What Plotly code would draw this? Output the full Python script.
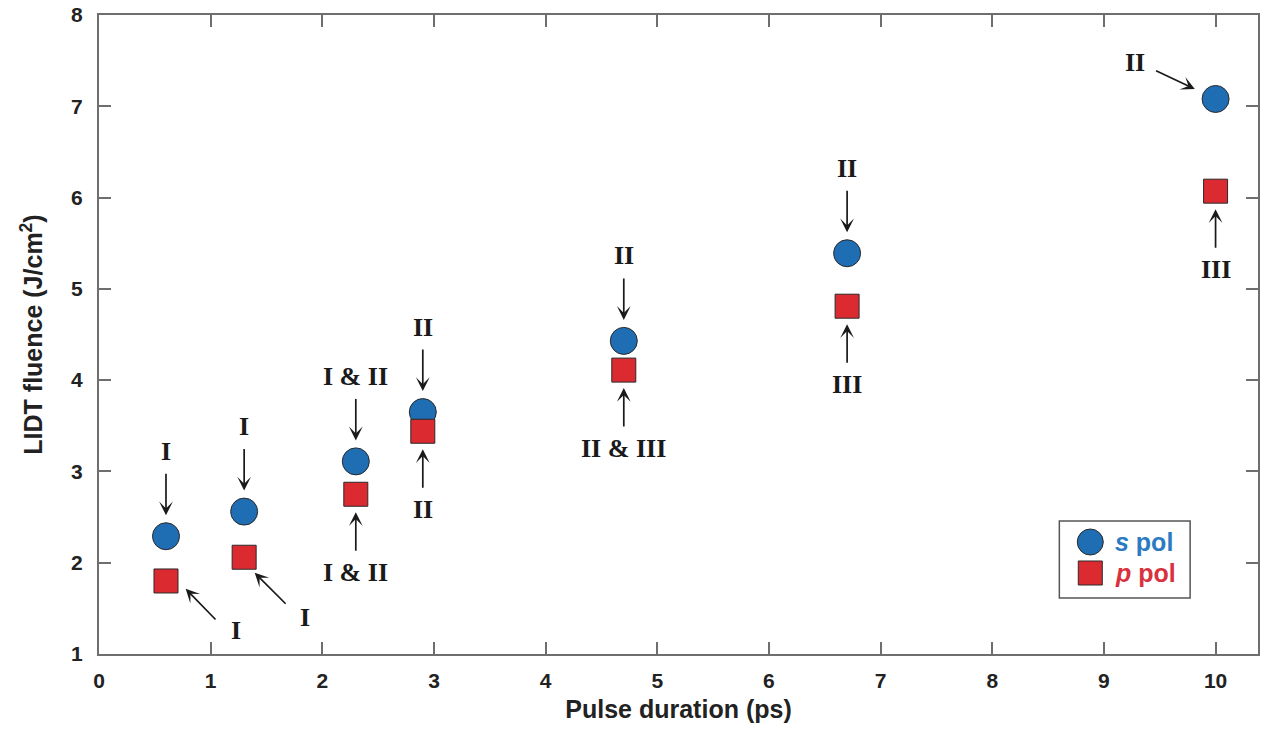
import plotly.graph_objects as go

# ---------------- data ----------------
pulse_ps = [0.6, 1.3, 2.3, 2.9, 4.7, 6.7, 10.0]
s_pol = [2.29, 2.56, 3.11, 3.65, 4.43, 5.39, 7.08]
p_pol = [1.80, 2.06, 2.75, 3.44, 4.11, 4.81, 6.07]
s_labels = ["I", "I", "I & II", "II", "II", "II", "II"]
p_labels = ["I", "I", "I & II", "II", "II & III", "III", "III"]
x_ticks = list(range(0, 11))
y_ticks = list(range(1, 9))

# ---------------- style ----------------
W, H = 1261, 742
ML, MR, MT, MB = 99, 1, 15, 88
PW, PH = W - ML - MR, H - MT - MB

S_FILL = "#1f6db3"
P_FILL = "#dc2b30"
EDGE = "#2a2a2a"
AXIS = "#6e6e6e"
SANS = "Liberation Sans, Arial, sans-serif"
SERIF = "Liberation Serif, Times New Roman, serif"

# label/arrow offsets in pixels relative to marker centre:
# (text_dx, text_dy, tail_dx, tail_dy, standoff, arrow_xshift)
s_off = [(0, -85, 0, -64, 21, 0)] * 6 + [(-81, -36, -61, -29, 23, 0)]
p_off = [(70, 50, 39, 40, 11, 12), (61, 60, 48, 48, 22, -5)] + [(0, 78, 0, 58, 18, 0)] * 5

fig = go.Figure()

fig.add_trace(go.Scatter(
    x=pulse_ps, y=s_pol, mode="markers", name="s pol",
    marker=dict(symbol="circle", size=27, color=S_FILL, line=dict(color=EDGE, width=1)),
    showlegend=False, hoverinfo="x+y"))
fig.add_trace(go.Scatter(
    x=pulse_ps, y=p_pol, mode="markers", name="p pol",
    marker=dict(symbol="square", size=24, color=P_FILL, line=dict(color=EDGE, width=1)),
    showlegend=False, hoverinfo="x+y"))

annotations = []


def add_labels(xs, ys, labels, offs):
    for xv, yv, lab, (tdx, tdy, adx, ady, so, xs_) in zip(xs, ys, labels, offs):
        annotations.append(dict(
            x=xv, y=yv, xref="x", yref="y", text="", showarrow=True,
            ax=adx, ay=ady, standoff=so, xshift=xs_,
            arrowhead=3, arrowsize=1.35, arrowwidth=1.7, arrowcolor="#1a1a1a"))
        annotations.append(dict(
            x=xv, y=yv, xref="x", yref="y", text=lab, showarrow=False,
            xshift=tdx, yshift=-tdy,
            font=dict(family=SERIF, size=26, color="#1a1a1a", weight="bold"),
            xanchor="center", yanchor="middle"))


add_labels(pulse_ps, s_pol, s_labels, s_off)
add_labels(pulse_ps, p_pol, p_labels, p_off)


def px(xp):
    return (xp - ML) / PW


def py(yp):
    return 1 - (yp - MT) / PH


# custom legend (box, markers, texts)
shapes = [
    dict(type="rect", xref="paper", yref="paper",
         x0=px(1061), x1=px(1192), y0=py(598), y1=py(521),
         line=dict(color="#555555", width=1.5), fillcolor="white"),
    dict(type="circle", xref="paper", yref="paper",
         xsizemode="pixel", ysizemode="pixel",
         xanchor=px(1092), yanchor=py(542),
         x0=-13, x1=13, y0=-13, y1=13,
         line=dict(color=EDGE, width=1), fillcolor=S_FILL),
    dict(type="rect", xref="paper", yref="paper",
         xsizemode="pixel", ysizemode="pixel",
         xanchor=px(1092), yanchor=py(573),
         x0=-12, x1=12, y0=-12, y1=12,
         line=dict(color=EDGE, width=1), fillcolor=P_FILL),
]
annotations.append(dict(
    xref="paper", yref="paper", x=px(1115), y=py(542), showarrow=False,
    text="<i>s</i> pol", xanchor="left", yanchor="middle",
    font=dict(family=SANS, size=25, color="#2b7bc2", weight="bold")))
annotations.append(dict(
    xref="paper", yref="paper", x=px(1115), y=py(573), showarrow=False,
    text="<i>p</i> pol", xanchor="left", yanchor="middle",
    font=dict(family=SANS, size=25, color="#d8323c", weight="bold")))

axis_common = dict(
    showline=True, linecolor=AXIS, linewidth=2, mirror="ticks",
    ticks="inside", ticklen=12, tickwidth=2, tickcolor=AXIS,
    showgrid=False, zeroline=False,
    tickfont=dict(family=SANS, size=21, color="#222222", weight="bold"),
)

fig.update_layout(
    width=W, height=H,
    margin=dict(l=ML, r=MR, t=MT, b=MB),
    plot_bgcolor="white", paper_bgcolor="white",
    xaxis=dict(range=[0, 10.38], tickvals=x_ticks, ticktext=[str(v) for v in x_ticks],
               ticklabelstandoff=7,
               title=dict(text="Pulse duration (ps)", standoff=9,
                          font=dict(family=SANS, size=25, color="#222222", weight="bold")),
               **axis_common),
    yaxis=dict(range=[1, 8], tickvals=y_ticks, ticktext=[str(v) for v in y_ticks],
               ticklabelstandoff=10,
               title=dict(text="LIDT fluence (J/cm<sup>2</sup>)", standoff=21,
                          font=dict(family=SANS, size=25, color="#222222", weight="bold")),
               **axis_common),
    annotations=annotations,
    shapes=shapes,
    showlegend=False,
)

fig.write_html("out.html")
